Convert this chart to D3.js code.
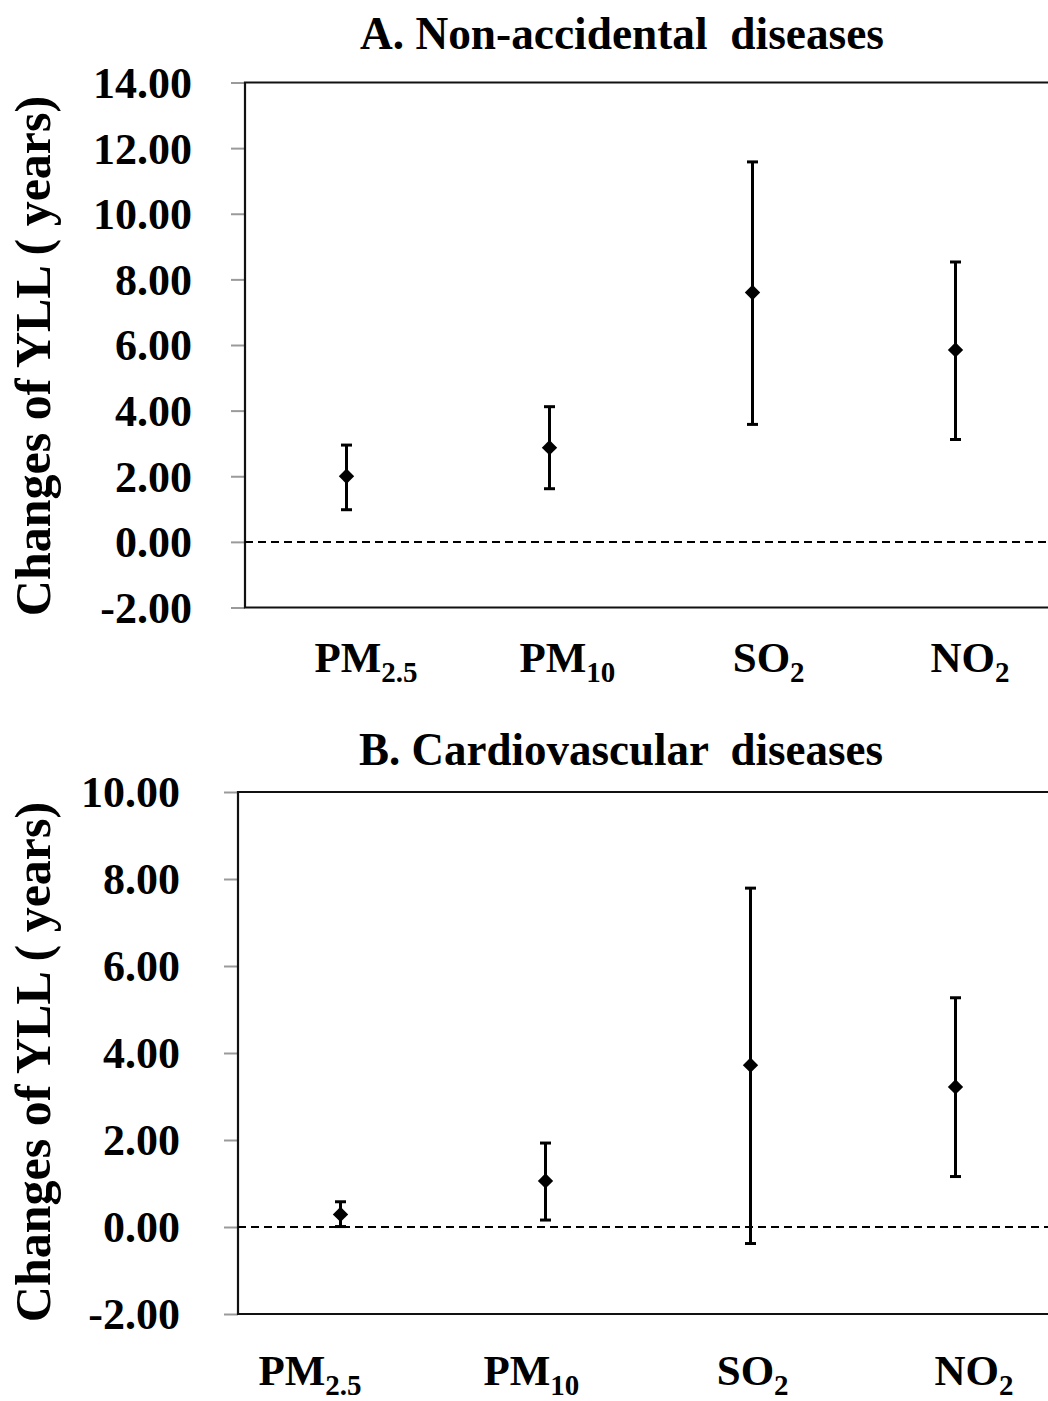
<!DOCTYPE html>
<html>
<head>
<meta charset="utf-8">
<script src="https://cdn.jsdelivr.net/npm/d3@7"></script>
<style>
  body { margin: 0; background: #fff; }
  text { font-family: "Liberation Serif", "Times New Roman", serif; font-weight: bold; fill: #000; }
</style>
</head>
<body>
<div id="chart"></div>
<script>
// pollutants on the x axis, main text and subscript
var pollutants = ["PM2.5", "PM10", "SO2", "NO2"];
var labelMain = ["PM", "PM", "SO", "NO"];
var labelSub = ["2.5", "10", "2", "2"];

// A. Non-accidental diseases: estimate and 95% CI
var nonAccEst = [2.00, 2.87, 7.60, 5.85];
var nonAccLow = [0.98, 1.62, 3.58, 3.12];
var nonAccHigh = [2.95, 4.12, 11.58, 8.53];
var nonAccTicks = [-2, 0, 2, 4, 6, 8, 10, 12, 14];

// B. Cardiovascular diseases
var cardioEst = [0.29, 1.06, 3.72, 3.22];
var cardioLow = [0.01, 0.16, -0.38, 1.16];
var cardioHigh = [0.58, 1.93, 7.79, 5.27];
var cardioTicks = [-2, 0, 2, 4, 6, 8, 10];

var W = 1048, H = 1401;
var svg = d3.select("#chart").append("svg")
  .attr("width", W).attr("height", H);
svg.append("rect").attr("width", W).attr("height", H).attr("fill", "#fff");

var fmt = function(d) { return d3.format(".2f")(d).replace("\u2212", "-"); };

function drawPanel(cfg) {
  var g = svg.append("g");
  var x = d3.scaleBand().domain(pollutants).range([cfg.left, cfg.right]);
  var xLab = d3.scalePoint().domain(pollutants).range(cfg.labelRange);
  var y = d3.scaleLinear().domain(cfg.domain).range([cfg.bottom, cfg.top]);

  var rows = pollutants.map(function(p, i) {
    return { key: p, est: cfg.est[i], lo: cfg.lo[i], hi: cfg.hi[i], main: labelMain[i], sub: labelSub[i] };
  });

  // title
  g.append("text")
    .attr("x", cfg.titleX).attr("y", cfg.titleY)
    .attr("text-anchor", "middle")
    .attr("font-size", 47)
    .attr("textLength", 524)
    .attr("lengthAdjust", "spacingAndGlyphs")
    .attr("xml:space", "preserve")
    .text(cfg.title);

  // y axis with outward gray ticks
  var yAxis = d3.axisLeft(y).tickValues(cfg.ticks)
    .tickSize(14).tickPadding(cfg.tickPad)
    .tickFormat(fmt);
  var ax = g.append("g").attr("transform", "translate(" + cfg.left + ",0)").call(yAxis);
  ax.select(".domain").remove();
  ax.selectAll(".tick line").attr("stroke", "#9a9a9a").attr("stroke-width", 2);
  ax.selectAll(".tick text")
    .attr("font-size", 44)
    .attr("font-family", "Liberation Serif")
    .attr("dy", "0.34em");

  // frame: left, top, bottom
  g.append("path")
    .attr("d", "M" + (cfg.right + 20) + "," + cfg.top + "H" + cfg.left + "V" + cfg.bottom + "H" + (cfg.right + 20))
    .attr("fill", "none").attr("stroke", "#111").attr("stroke-width", 2.2);

  // zero reference line
  g.append("line")
    .attr("x1", cfg.left).attr("x2", cfg.right + 20)
    .attr("y1", y(0)).attr("y2", y(0))
    .attr("stroke", "#000").attr("stroke-width", 2)
    .attr("stroke-dasharray", "8,5");

  // error bars
  var bars = g.selectAll(".eb").data(rows).enter().append("g").attr("class", "eb");
  var cx = function(d) { return x(d.key) + x.bandwidth() / 2; };
  bars.append("line")
    .attr("x1", cx).attr("x2", cx)
    .attr("y1", function(d) { return y(d.lo); })
    .attr("y2", function(d) { return y(d.hi); })
    .attr("stroke", "#000").attr("stroke-width", 3);
  ["lo", "hi"].forEach(function(k) {
    bars.append("line")
      .attr("x1", function(d) { return cx(d) - 5.5; })
      .attr("x2", function(d) { return cx(d) + 5.5; })
      .attr("y1", function(d) { return y(d[k]); })
      .attr("y2", function(d) { return y(d[k]); })
      .attr("stroke", "#000").attr("stroke-width", 3);
  });
  bars.append("path")
    .attr("d", d3.symbol().type(d3.symbolDiamond2).size(150))
    .attr("transform", function(d) { return "translate(" + cx(d) + "," + y(d.est) + ")"; })
    .attr("fill", "#000");

  // category labels with subscripts
  var lab = g.selectAll(".cat").data(rows).enter().append("text")
    .attr("class", "cat")
    .attr("x", function(d) { return xLab(d.key); })
    .attr("y", cfg.labelY)
    .attr("text-anchor", "middle")
    .attr("font-size", 43);
  lab.append("tspan").text(function(d) { return d.main; });
  lab.append("tspan").attr("font-size", 29).attr("dy", 10).text(function(d) { return d.sub; });

  // y axis title
  g.append("text")
    .attr("transform", "translate(" + cfg.yTitleX + "," + cfg.yTitleY + ") rotate(-90)")
    .attr("text-anchor", "middle")
    .attr("font-size", 50)
    .text("Changes of YLL ( years)");
}

drawPanel({
  title: "A. Non-accidental  diseases", titleX: 622, titleY: 49,
  left: 245, right: 1057, top: 82.5, bottom: 607.5,
  domain: [-2, 14], ticks: nonAccTicks, tickPad: 39,
  est: nonAccEst, lo: nonAccLow, hi: nonAccHigh,
  labelRange: [366, 970], labelY: 672,
  yTitleX: 50, yTitleY: 356
});

drawPanel({
  title: "B. Cardiovascular  diseases", titleX: 621, titleY: 765,
  left: 238, right: 1058, top: 792, bottom: 1314,
  domain: [-2, 10], ticks: cardioTicks, tickPad: 44,
  est: cardioEst, lo: cardioLow, hi: cardioHigh,
  labelRange: [310, 974], labelY: 1385,
  yTitleX: 50, yTitleY: 1062
});
</script>
</body>
</html>
